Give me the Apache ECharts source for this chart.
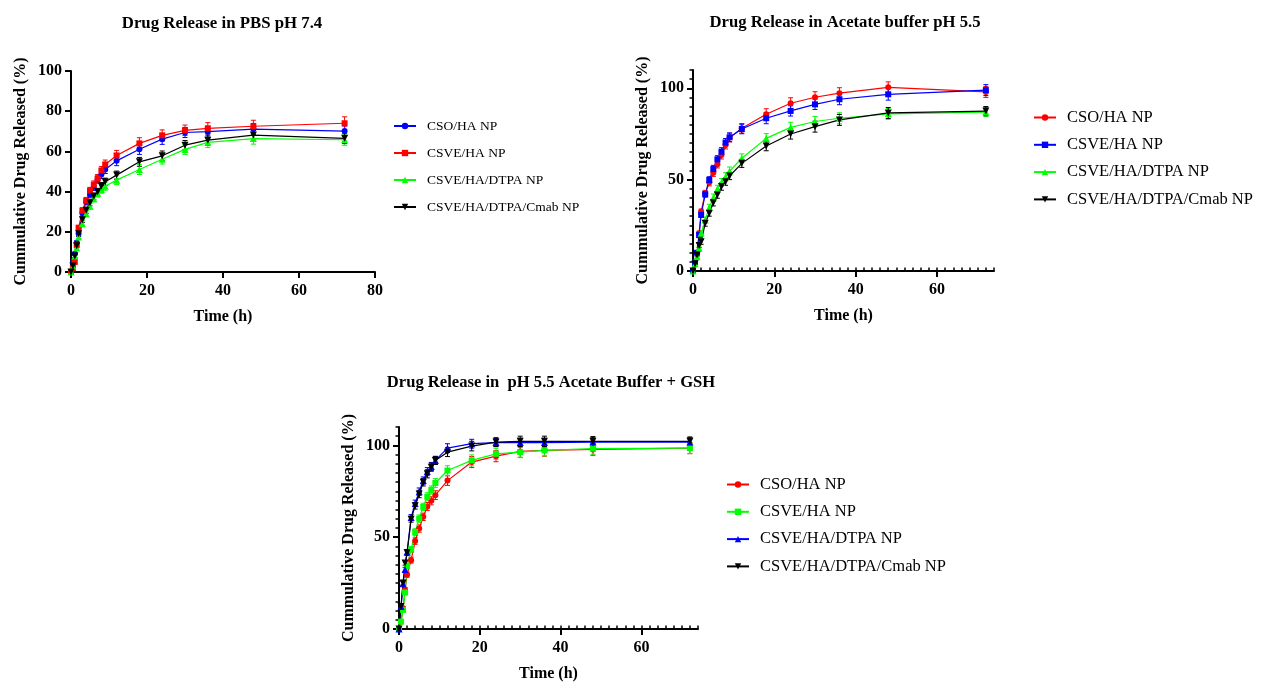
<!DOCTYPE html>
<html><head><meta charset="utf-8">
<script src="https://cdn.jsdelivr.net/npm/echarts@6/dist/echarts.min.js"></script>
<style>html,body{margin:0;padding:0;background:#fff}#c{width:1266px;height:683px}</style>
</head><body><div id="c"></div>
<script>
// ---------- DATA ----------
const timeH = [0, 0.5, 1, 1.5, 2, 3, 4, 5, 6, 7, 8, 9, 12, 18, 24, 30, 36, 48, 72];

const seriesNames = ['CSO/HA NP', 'CSVE/HA NP', 'CSVE/HA/DTPA NP', 'CSVE/HA/DTPA/Cmab NP'];

// Chart 1: PBS pH 7.4
const pbsCsoHa      = [0, 4.7, 9.1, 14.5, 19.1, 29.4, 34.9, 38.5, 42.4, 46, 48.5, 51, 55.3, 61.1, 66.1, 69.4, 69.8, 71.1, 70.1];
const pbsCsveHa     = [0, 2, 5, 13.5, 22, 30.5, 35.5, 40.5, 43.5, 46.5, 50.5, 53.5, 58, 64, 68, 70.5, 71.5, 72.5, 74];
const pbsDtpa       = [0, 3, 8, 12, 17.4, 24, 29, 32.7, 36.5, 39, 41, 42.7, 45.7, 51, 56.1, 61, 64.5, 66.4, 65.8];
const pbsCmab       = [0, 3, 8, 13, 19, 26, 30.7, 34.4, 37.7, 39.9, 42.7, 44.9, 48.2, 54.8, 57.8, 63.1, 65.6, 68.1, 66.5];
const pbsCsoHaErr   = [0.3, 0.5, 0.8, 1, 1.2, 1.5, 1.5, 1.6, 1.8, 1.8, 2, 2, 2.4, 2.6, 2.6, 2.5, 2.6, 2.8, 2.5];
const pbsCsveHaErr  = [0.3, 0.5, 0.8, 1, 1.2, 1.5, 1.6, 1.6, 1.8, 2, 2, 2.2, 2.5, 2.8, 2.7, 2.6, 2.8, 3, 3.2];
const pbsDtpaErr    = [0.3, 0.5, 0.8, 1, 1.2, 1.4, 1.5, 1.5, 1.6, 1.7, 1.8, 2, 2.2, 2.5, 2.4, 2.5, 2.6, 2.8, 2.8];
const pbsCmabErr    = [0.3, 0.5, 0.8, 1, 1.2, 1.4, 1.5, 1.5, 1.6, 1.7, 1.8, 1.8, 2, 2.2, 2.4, 2.3, 2.5, 2.6, 2.6];

// Chart 2: Acetate buffer pH 5.5
const acCsoHa       = [0, 5, 10, 20.6, 32.5, 42.5, 48.4, 53.8, 58.4, 63.5, 69, 73, 78.1, 85.8, 91.8, 95.1, 97.3, 100.5, 98];
const acCsveHa      = [0, 5, 10, 19.7, 30.7, 42, 49.8, 55.8, 61.1, 65.3, 70.3, 73.2, 77.7, 83.6, 87.6, 91.2, 94, 96.7, 99];
const acDtpa        = [0, 4, 7.8, 12.4, 20.6, 27.9, 34.7, 40.1, 44.9, 48.4, 51.6, 54.7, 61.7, 72.6, 78.6, 81.8, 83.6, 86, 87];
const acCmab        = [0, 4, 8.8, 14, 16, 26.1, 31.6, 37.4, 41.6, 46.2, 48.9, 52, 58.9, 68.4, 75, 79, 82.7, 86.5, 87.5];
const acCsoHaErr    = [0.3, 0.6, 1, 1.2, 1.4, 1.6, 1.8, 2, 2, 2.2, 2.2, 2.4, 2.6, 3, 3, 3, 3, 3, 3];
const acCsveHaErr   = [0.3, 0.6, 1, 1.2, 1.4, 1.6, 1.8, 2, 2, 2.2, 2.2, 2.4, 2.6, 3, 2.8, 2.8, 3, 3.2, 3];
const acDtpaErr     = [0.3, 0.6, 1, 1.2, 1.4, 1.6, 1.8, 2, 2, 2.2, 2.2, 2.2, 2.4, 2.6, 2.8, 2.8, 3, 3, 2.5];
const acCmabErr     = [0.3, 0.6, 1, 1.2, 1.4, 1.6, 1.6, 1.8, 1.8, 2, 2, 2, 2.2, 2.6, 2.8, 3, 3, 3, 2.5];

// Chart 3: pH 5.5 Acetate Buffer + GSH
const gshCsoHa      = [0, 4, 11.3, 21.4, 29.6, 37.5, 47.9, 54.7, 61.1, 66.7, 69.8, 72.9, 80.8, 90.9, 94.1, 96.7, 97.3, 97.8, 98.5];
const gshCsveHa     = [0, 4, 10.4, 19.9, 34.2, 43.3, 52.8, 60.1, 66.5, 72, 75.7, 79.5, 86.3, 91.8, 95.4, 96.3, 97.3, 98.2, 98.5];
const gshDtpa       = [0, 12.2, 24.7, 32.4, 41.9, 60.7, 68.4, 74.8, 80.8, 85.7, 88.5, 91.8, 98.5, 100.9, 101.5, 101.5, 101.5, 101.8, 101.8];
const gshCmab       = [0, 12.2, 25, 36, 41.5, 59.8, 67.1, 73.5, 79.9, 84.5, 88.1, 91.8, 96.3, 99.6, 101.8, 102.2, 102.2, 102.2, 102.2];
const gshCsoHaErr   = [0.3, 0.6, 1, 1.2, 1.4, 1.6, 1.8, 2, 2, 2.2, 2.2, 2.4, 2.6, 3, 3, 3.2, 3.2, 3.2, 3];
const gshCsveHaErr  = [0.3, 0.6, 1, 1.2, 1.4, 1.6, 1.8, 2, 2, 2.2, 2.2, 2.4, 2.6, 3, 3, 3, 3, 3, 3];
const gshDtpaErr    = [0.3, 0.6, 1, 1.2, 1.4, 1.6, 1.8, 2, 2, 2.2, 2.2, 2.2, 2.4, 2.4, 2.2, 2.4, 2.4, 2.4, 2.4];
const gshCmabErr    = [0.3, 0.6, 1, 1.2, 1.4, 1.6, 1.8, 2, 2, 2.2, 2.2, 2.2, 2.4, 2.6, 2.4, 2.8, 2.8, 2.6, 2.4];

const xMajorTicks = [0, 20, 40, 60];
const yMajorTicks = [0, 50, 100];

const titles = ['Drug Release in PBS pH 7.4', 'Drug Release in Acetate buffer pH 5.5', 'Drug Release in  pH 5.5 Acetate Buffer + GSH'];
const yName = 'Cummulative Drug Released (%)';
const xName = 'Time (h)';

// ---------- STYLE / BUILD ----------
const SERIF = 'Liberation Serif';
const BLUE = '#0000ff', RED = '#ff0000', GREEN = '#00ff00', BLACK = '#000000';
const DOWN = 'path://M0,0L10,0L5,9Z';

function errRender(color) {
  return function (params, api) {
    const x = api.value(0), y = api.value(1), e = api.value(2);
    if (!e) return null;
    const t = api.coord([x, y + e]), b = api.coord([x, y - e]);
    const w = 2.5;
    const st = { stroke: color, lineWidth: 1 };
    return { type: 'group', children: [
      { type: 'line', shape: { x1: t[0], y1: t[1], x2: b[0], y2: b[1] }, style: st },
      { type: 'line', shape: { x1: t[0] - w, y1: t[1], x2: t[0] + w, y2: t[1] }, style: st },
      { type: 'line', shape: { x1: b[0] - w, y1: b[1], x2: b[0] + w, y2: b[1] }, style: st }
    ]};
  };
}

function mk(prefix, name, vals, errs, xi, yi, color, symbol, size) {
  return [
    { type: 'custom', xAxisIndex: xi, yAxisIndex: yi, silent: true, z: 2,
      data: timeH.map((t, i) => [t, vals[i], errs[i]]), encode: { x: 0, y: 1 },
      renderItem: errRender(color) },
    { type: 'line', name: prefix + '|' + name, xAxisIndex: xi, yAxisIndex: yi, z: 3,
      data: timeH.map((t, i) => [t, vals[i]]), symbol: symbol, symbolSize: size,
      showSymbol: true, lineStyle: { color: color, width: 1.2 }, itemStyle: { color: color } }
  ];
}

const series = [].concat(
  mk('a', seriesNames[0], pbsCsoHa, pbsCsoHaErr, 0, 0, BLUE, 'circle', 6),
  mk('a', seriesNames[1], pbsCsveHa, pbsCsveHaErr, 0, 0, RED, 'rect', 6),
  mk('a', seriesNames[2], pbsDtpa, pbsDtpaErr, 0, 0, GREEN, 'triangle', 7),
  mk('a', seriesNames[3], pbsCmab, pbsCmabErr, 0, 0, BLACK, DOWN, 7),
  mk('b', seriesNames[0], acCsoHa, acCsoHaErr, 1, 1, RED, 'circle', 6),
  mk('b', seriesNames[1], acCsveHa, acCsveHaErr, 1, 1, BLUE, 'rect', 6),
  mk('b', seriesNames[2], acDtpa, acDtpaErr, 1, 1, GREEN, 'triangle', 7),
  mk('b', seriesNames[3], acCmab, acCmabErr, 1, 1, BLACK, DOWN, 7),
  mk('c', seriesNames[0], gshCsoHa, gshCsoHaErr, 3, 3, RED, 'circle', 6),
  mk('c', seriesNames[1], gshCsveHa, gshCsveHaErr, 3, 3, GREEN, 'rect', 6),
  mk('c', seriesNames[2], gshDtpa, gshDtpaErr, 3, 3, BLUE, 'triangle', 7),
  mk('c', seriesNames[3], gshCmab, gshCmabErr, 3, 3, BLACK, DOWN, 7)
);

const lblStyle = { fontFamily: SERIF, fontWeight: 'bold', fontSize: 16, color: '#000' };
const nameStyle = { fontFamily: SERIF, fontWeight: 'bold', fontSize: 16, color: '#000' };
const axLine = { show: true, lineStyle: { color: '#000', width: 2 } };
const majTick = { show: true, length: 6, lineStyle: { color: '#000', width: 2 } };
const minTick = { show: true, length: 3.5, lineStyle: { color: '#000', width: 1.5 } };

function mainX(grid, max, interval) {
  const ax = { type: 'value', gridIndex: grid, min: 0, max: max, splitLine: { show: false },
    axisLine: axLine, axisTick: Object.assign({}, majTick),
    axisLabel: Object.assign({ margin: 11 }, lblStyle),
    name: xName, nameLocation: 'middle', nameGap: 37, nameTextStyle: nameStyle };
  if (interval) ax.interval = interval;
  else { ax.axisTick.customValues = xMajorTicks; ax.axisLabel.customValues = xMajorTicks; }
  return ax;
}
function minorX(grid, max) {
  return { type: 'value', gridIndex: grid, min: 0, max: max, interval: 2, splitLine: { show: false },
    axisLine: { show: false }, axisTick: minTick, axisLabel: { show: false } };
}
function mainY(grid, max, interval) {
  const ax = { type: 'value', gridIndex: grid, min: 0, max: max, splitLine: { show: false },
    axisLine: axLine, axisTick: Object.assign({}, majTick),
    axisLabel: Object.assign({ margin: 9 }, lblStyle),
    name: yName, nameLocation: 'middle', nameGap: 42, nameRotate: 90, nameTextStyle: nameStyle };
  if (interval) ax.interval = interval;
  else { ax.axisTick.customValues = yMajorTicks; ax.axisLabel.customValues = yMajorTicks; }
  return ax;
}
function minorY(grid, max) {
  return { type: 'value', gridIndex: grid, min: 0, max: max, interval: 5, position: 'left', offset: 0,
    splitLine: { show: false }, axisLine: { show: false }, axisTick: minTick, axisLabel: { show: false } };
}

function legend(prefix, left, top, fontSize, gap) {
  return { orient: 'vertical', left: left, top: top, padding: 0, itemWidth: 22, itemHeight: 8, itemGap: gap,
    data: seriesNames.map(n => prefix + '|' + n),
    formatter: n => n.split('|')[1],
    textStyle: { fontFamily: SERIF, fontSize: fontSize, color: '#000', padding: [0, 0, 0, 6] } };
}

function title(text, x, y, size) {
  return { text: text, left: x, top: y, padding: 0, textAlign: 'center',
    textStyle: { fontFamily: SERIF, fontWeight: 'bold', fontSize: size, color: '#000' } };
}

const option = {
  animation: false,
  backgroundColor: '#fff',
  title: [
    title(titles[0], 222, 15.5, 16.8),
    title(titles[1], 845, 14.5, 16.7),
    title(titles[2], 551, 374, 16.6)
  ],
  grid: [
    { left: 71, top: 71, width: 304, height: 201, outerBoundsMode: 'none' },
    { left: 693, top: 70, width: 301, height: 201, outerBoundsMode: 'none' },
    { left: 399, top: 427, width: 299, height: 202, outerBoundsMode: 'none' }
  ],
  xAxis: [mainX(0, 80, 20), mainX(1, 74), minorX(1, 74), mainX(2, 74), minorX(2, 74)],
  yAxis: [mainY(0, 100, 20), mainY(1, 110), minorY(1, 110), mainY(2, 110), minorY(2, 110)],
  legend: [legend('a', 393, 119, 13.5, 13), legend('b', 1033, 109, 16.5, 10.3), legend('c', 726, 476, 16.5, 10.3)],
  series: series
};

const chart = echarts.init(document.getElementById('c'));
chart.setOption(option);
</script></body></html>
